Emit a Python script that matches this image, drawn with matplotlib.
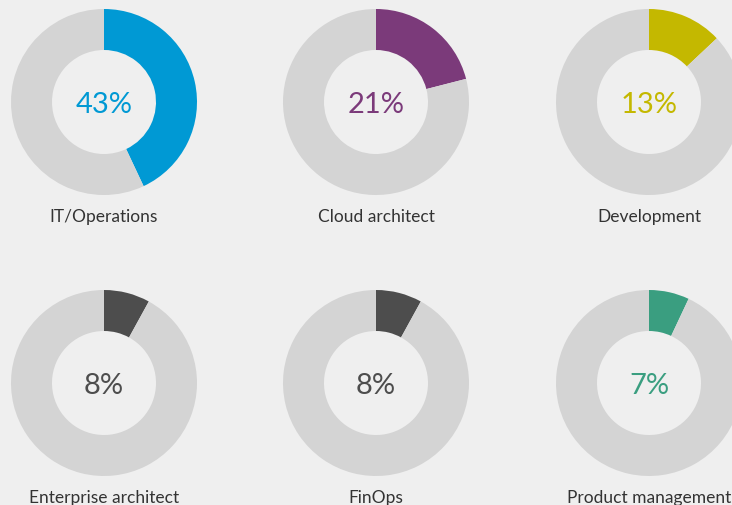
import matplotlib
matplotlib.use("Agg")
import matplotlib.pyplot as plt

categories = ["IT/Operations", "Cloud architect", "Development",
              "Enterprise architect", "FinOps", "Product management"]
values = [43, 21, 13, 8, 8, 7]
colors = ["#0099d4", "#7b3a7a", "#c4b800", "#4d4d4d", "#4d4d4d", "#3a9e80"]

W, H = 732, 506
BG = "#efefef"
RING = "#d4d4d4"
plt.rcParams['font.family'] = ['Lato', 'DejaVu Sans']

fig = plt.figure(figsize=(W / 100, H / 100), dpi=100, facecolor=BG)

col_x = [104, 376, 649]
row_y = [103, 384]
R = 93
r_in = 52
label_dy = 114

for i, (cat, v, c) in enumerate(zip(categories, values, colors)):
    cx = col_x[i % 3]
    cy = row_y[i // 3]
    ax = fig.add_axes([(cx - R) / W, 1 - (cy + R) / H, 2 * R / W, 2 * R / H])
    ax.set_facecolor(BG)
    ax.pie([v, 100 - v], colors=[c, RING], startangle=90, counterclock=False,
           radius=1, wedgeprops=dict(width=(R - r_in) / R, linewidth=0))
    ax.set_xlim(-1, 1)
    ax.set_ylim(-1, 1)
    ax.set_aspect('equal')
    ax.axis('off')
    fig.text(cx / W, 1 - (cy + 2) / H, f"{v}%", ha='center', va='center',
             fontsize=21, color=c)
    fig.text(cx / W, 1 - (cy + label_dy) / H, cat, ha='center', va='center',
             fontsize=12.5, color="#333333")

fig.savefig("out.png", dpi=100, facecolor=BG)
